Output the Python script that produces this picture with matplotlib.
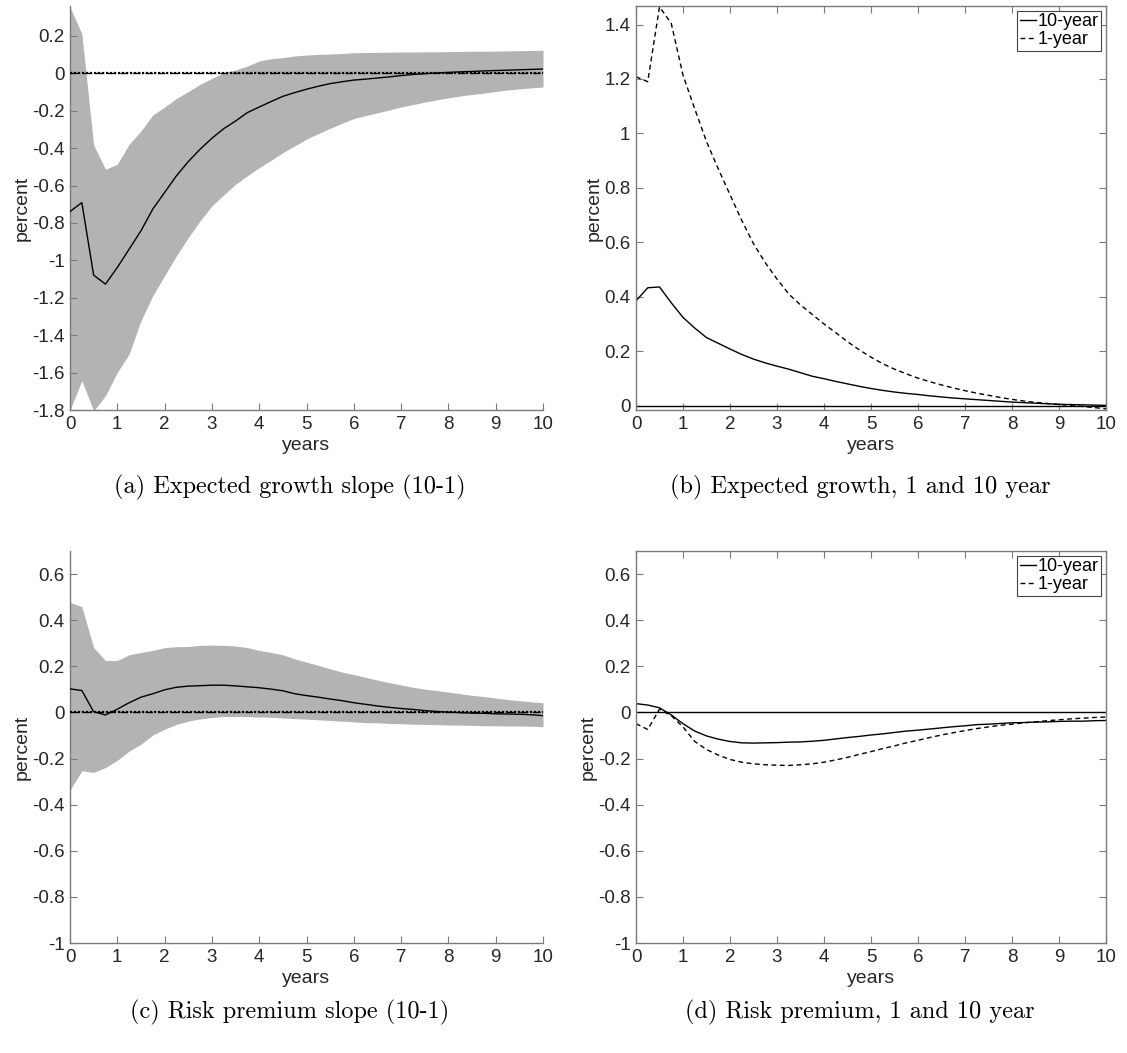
import numpy as np
import matplotlib
matplotlib.use("Agg")
import matplotlib.pyplot as plt
from matplotlib.ticker import FuncFormatter

plt.rcParams['font.family'] = ['Liberation Sans', 'DejaVu Sans']
plt.rcParams['axes.unicode_minus'] = False

# quarterly horizon, 0 to 10 years
years = np.arange(41) * 0.25

# (a) expected growth slope (10-1): point estimate and band
growth_slope = [-0.739, -0.691, -1.079, -1.127, -1.038, -0.940, -0.842, -0.726, -0.637, -0.548,
                -0.472, -0.406, -0.347, -0.296, -0.255, -0.210, -0.180, -0.151, -0.123, -0.103,
                -0.085, -0.069, -0.055, -0.045, -0.036, -0.031, -0.025, -0.019, -0.012, -0.006,
                -0.002, 0.002, 0.005, 0.008, 0.010, 0.013, 0.015, 0.017, 0.019, 0.021, 0.023]
growth_slope_hi = [0.354, 0.212, -0.383, -0.513, -0.486, -0.379, -0.308, -0.223, -0.180, -0.134,
                   -0.098, -0.059, -0.027, 0.004, 0.018, 0.039, 0.066, 0.078, 0.084, 0.093,
                   0.098, 0.101, 0.103, 0.106, 0.110, 0.111, 0.112, 0.113, 0.114, 0.114,
                   0.115, 0.115, 0.116, 0.117, 0.118, 0.118, 0.119, 0.120, 0.121, 0.122, 0.124]
growth_slope_lo = [-1.800, -1.643, -1.805, -1.723, -1.599, -1.501, -1.323, -1.189, -1.082, -0.976,
                   -0.878, -0.789, -0.709, -0.650, -0.593, -0.548, -0.504, -0.465, -0.424, -0.388,
                   -0.352, -0.322, -0.294, -0.267, -0.242, -0.226, -0.211, -0.196, -0.180, -0.167,
                   -0.154, -0.142, -0.131, -0.121, -0.113, -0.106, -0.097, -0.089, -0.083, -0.078, -0.073]

# (b) expected growth, 10-year and 1-year
growth_10y = [0.385, 0.433, 0.436, 0.378, 0.324, 0.285, 0.250, 0.229, 0.208, 0.188,
              0.171, 0.157, 0.145, 0.134, 0.121, 0.108, 0.099, 0.089, 0.080, 0.071,
              0.063, 0.056, 0.050, 0.045, 0.041, 0.036, 0.032, 0.028, 0.025, 0.022,
              0.019, 0.016, 0.013, 0.011, 0.009, 0.007, 0.005, 0.004, 0.003, 0.002, 0.001]
growth_1y = [1.208, 1.190, 1.465, 1.404, 1.214, 1.090, 0.970, 0.870, 0.775, 0.680,
             0.595, 0.525, 0.465, 0.410, 0.370, 0.335, 0.300, 0.268, 0.235, 0.205,
             0.178, 0.154, 0.134, 0.117, 0.101, 0.088, 0.076, 0.065, 0.055, 0.046,
             0.038, 0.030, 0.023, 0.017, 0.012, 0.008, 0.004, 0.001, -0.003, -0.007, -0.012]

# (c) risk premium slope (10-1): point estimate and band
rp_slope = [0.102, 0.095, 0.003, -0.011, 0.014, 0.042, 0.066, 0.081, 0.098, 0.109,
            0.114, 0.116, 0.118, 0.118, 0.115, 0.111, 0.107, 0.101, 0.094, 0.081,
            0.073, 0.066, 0.058, 0.051, 0.042, 0.035, 0.028, 0.022, 0.017, 0.013,
            0.008, 0.004, 0.001, -0.001, -0.003, -0.004, -0.006, -0.007, -0.008, -0.010, -0.014]
rp_slope_hi = [0.477, 0.459, 0.281, 0.225, 0.225, 0.250, 0.260, 0.269, 0.281, 0.285,
               0.286, 0.291, 0.292, 0.291, 0.288, 0.281, 0.269, 0.260, 0.250, 0.232,
               0.218, 0.204, 0.189, 0.175, 0.164, 0.152, 0.140, 0.129, 0.119, 0.109,
               0.101, 0.095, 0.088, 0.081, 0.074, 0.069, 0.062, 0.056, 0.051, 0.046, 0.042]
rp_slope_lo = [-0.337, -0.253, -0.260, -0.239, -0.208, -0.168, -0.138, -0.098, -0.073, -0.052,
               -0.038, -0.028, -0.022, -0.018, -0.018, -0.018, -0.020, -0.021, -0.024, -0.027,
               -0.029, -0.032, -0.035, -0.038, -0.041, -0.044, -0.045, -0.048, -0.049, -0.051,
               -0.052, -0.053, -0.055, -0.055, -0.056, -0.058, -0.058, -0.059, -0.059, -0.060, -0.062]

# (d) risk premium, 10-year and 1-year
rp_10y = [0.038, 0.032, 0.020, -0.011, -0.049, -0.081, -0.102, -0.116, -0.126, -0.132,
          -0.133, -0.132, -0.131, -0.129, -0.128, -0.125, -0.121, -0.115, -0.109, -0.104,
          -0.098, -0.093, -0.087, -0.081, -0.077, -0.072, -0.067, -0.062, -0.058, -0.053,
          -0.051, -0.048, -0.045, -0.044, -0.042, -0.041, -0.039, -0.038, -0.038, -0.036, -0.035]
rp_1y = [-0.049, -0.074, 0.014, -0.014, -0.063, -0.126, -0.161, -0.185, -0.204, -0.216,
         -0.223, -0.227, -0.229, -0.230, -0.227, -0.223, -0.216, -0.206, -0.195, -0.182,
         -0.170, -0.157, -0.145, -0.132, -0.121, -0.109, -0.098, -0.088, -0.079, -0.070,
         -0.063, -0.056, -0.051, -0.045, -0.041, -0.036, -0.032, -0.028, -0.025, -0.022, -0.020]

captions = ["(a) Expected growth slope (10-1)", "(b) Expected growth, 1 and 10 year",
            "(c) Risk premium slope (10-1)", "(d) Risk premium, 1 and 10 year"]
legend_labels = ["10-year", "1-year"]
x_ticks = list(range(0, 11))

W, H = 1127, 1053
fig = plt.figure(figsize=(W / 100, H / 100), dpi=100)


def px_axes(left, top, right, bottom):
    return fig.add_axes([left / W, 1 - bottom / H, (right - left) / W, (bottom - top) / H])


AX_COL = '#7a7a7a'
TXT_COL = '#262626'
BAND = '#b3b3b3'


def tick_text(v, pos):
    v = round(v, 6)
    if abs(v) < 1e-9:
        return '0'
    return '%g' % v


fmt = FuncFormatter(tick_text)


def style(ax, box, yticks, ylim):
    ax.set_xlim(0, 10)
    ax.set_ylim(*ylim)
    ax.set_xticks(x_ticks)
    ax.set_yticks(yticks)
    ax.yaxis.set_major_formatter(fmt)
    ax.xaxis.set_major_formatter(fmt)
    for s in ax.spines.values():
        s.set_color(AX_COL)
        s.set_linewidth(1.0)
    if not box:
        ax.spines['top'].set_visible(False)
        ax.spines['right'].set_visible(False)
    ax.tick_params(direction='in', length=5, width=0.8, color=AX_COL, labelsize=13.5,
                   labelcolor=TXT_COL, top=box, right=box, pad=4)
    ax.set_xlabel('years', fontsize=14, color=TXT_COL, labelpad=3)
    ax.set_ylabel('percent', fontsize=14, color=TXT_COL, labelpad=1)


def zero_line(ax):
    ax.plot([0, 10], [0, 0], color='black', lw=1.6, ls=(0, (1, 0.8)), zorder=3)
    ax.plot([0, 10], [0, 0], color='black', lw=0.9, ls=(0, (6, 4)), zorder=3)


def add_legend(ax, handles):
    leg = ax.legend(handles, legend_labels, loc='upper right', fontsize=13, handlelength=0.9,
                    handletextpad=0.1, borderpad=0.15, borderaxespad=0.25, labelspacing=0.05,
                    fancybox=False, framealpha=1)
    leg.get_frame().set_edgecolor('#444444')
    leg.get_frame().set_linewidth(0.8)


# (a)
ax = px_axes(70, 6, 543, 410)
ax.fill_between(years, growth_slope_lo, growth_slope_hi, color=BAND, lw=0, zorder=1)
zero_line(ax)
ax.plot(years, growth_slope, color='black', lw=1.0, zorder=4)
style(ax, False, np.round(np.arange(-1.8, 0.21, 0.2), 1), (-1.8, 0.36))

# (b)
ax = px_axes(636, 6, 1106, 410)
l1, = ax.plot(years, growth_10y, color='black', lw=1.0)
l2, = ax.plot(years, growth_1y, color='black', lw=1.0, ls=(0, (3.5, 2.5)))
ax.plot([0, 10], [0, 0], color='black', lw=1.0)
style(ax, True, np.round(np.arange(0, 1.41, 0.2), 1), (-0.016, 1.468))
add_legend(ax, [l1, l2])

# (c)
ax = px_axes(70, 551, 543, 943)
ax.fill_between(years, rp_slope_lo, rp_slope_hi, color=BAND, lw=0, zorder=1)
zero_line(ax)
ax.plot(years, rp_slope, color='black', lw=1.0, zorder=4)
style(ax, False, np.round(np.arange(-1.0, 0.61, 0.2), 1), (-1.0, 0.7))

# (d)
ax = px_axes(636, 551, 1106, 943)
l1, = ax.plot(years, rp_10y, color='black', lw=1.0)
l2, = ax.plot(years, rp_1y, color='black', lw=1.0, ls=(0, (3.5, 2.5)))
ax.plot([0, 10], [0, 0], color='black', lw=1.0)
style(ax, True, np.round(np.arange(-1.0, 0.61, 0.2), 1), (-1.0, 0.7))
add_legend(ax, [l1, l2])

# panel captions
for (cx, cy), text in zip([(290, 487), (860, 487), (290, 1012), (860, 1012)], captions):
    fig.text(cx / W, 1 - cy / H, text, ha='center', va='center', fontsize=17.5,
             family=['cmr10', 'DejaVu Serif'], color='black')

fig.savefig('out.png', dpi=100)
